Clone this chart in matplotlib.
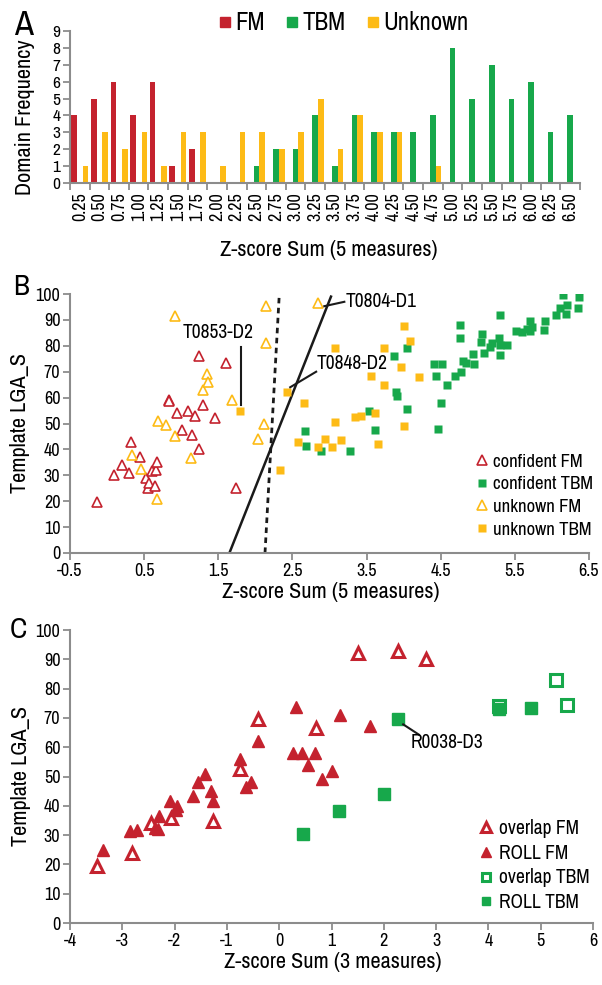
import matplotlib
matplotlib.use('Agg')
import matplotlib.pyplot as plt
import numpy as np
from matplotlib.lines import Line2D
from matplotlib import font_manager

# look for a narrow sans font, the reference uses an Arial Narrow look
narrow = None
for f in font_manager.fontManager.ttflist:
    if 'Narrow' in f.name or 'Condensed' in f.name:
        narrow = (f.name, 'normal')
        break
if narrow is None:
    for f in font_manager.fontManager.ttflist:
        if f.stretch in ('condensed', 'semi-condensed') and 'Mono' not in f.name and 'Serif' not in f.name:
            narrow = (f.name, f.stretch)
            break

if narrow is not None:
    plt.rcParams['font.family'] = [narrow[0], 'DejaVu Sans']
    plt.rcParams['font.stretch'] = narrow[1]
    FS = 1.0
else:
    plt.rcParams['font.family'] = ['Liberation Sans', 'DejaVu Sans']
    FS = 0.86
plt.rcParams['axes.unicode_minus'] = False

RED = '#c4222e'
GREEN = '#17a84b'
YELLOW = '#fdbb16'
GRAY = '#8c8c8c'

# ---- panel A: domain counts per z-score bin
bin_labels = ['0.25', '0.50', '0.75', '1.00', '1.25', '1.50', '1.75', '2.00', '2.25',
              '2.50', '2.75', '3.00', '3.25', '3.50', '3.75', '4.00', '4.25', '4.50',
              '4.75', '5.00', '5.25', '5.50', '5.75', '6.00', '6.25', '6.50']
fm_counts = [4, 5, 6, 4, 6, 1, 2, 0, 0, 0, 0, 0, 0, 0, 0, 0, 0, 0, 0, 0, 0, 0, 0, 0, 0, 0]
tbm_counts = [0, 0, 0, 0, 0, 0, 0, 0, 0, 1, 2, 2, 4, 1, 4, 3, 3, 3, 4, 8, 5, 7, 5, 6, 3, 4]
unknown_counts = [1, 3, 2, 3, 1, 3, 3, 1, 3, 3, 2, 3, 5, 2, 4, 3, 3, 0, 1, 0, 0, 0, 0, 0, 0, 0]

# ---- panel B: z-score sum (5 measures) vs template LGA_S
conf_fm_x = [-0.13, 0.09, 0.20, 0.29, 0.32, 0.45, 0.52, 0.55, 0.57, 0.61, 0.64, 0.66, 0.67,
             0.83, 0.84, 0.94, 1.01, 1.09, 1.14, 1.19, 1.24, 1.24, 1.29, 1.46, 1.60, 1.74]
conf_fm_y = [19.5, 30, 34, 31, 43, 37, 29, 25, 27, 31.5, 26, 32, 35,
             59, 58.5, 54, 47.5, 55, 45.5, 53, 40, 76, 57, 52, 73.5, 25]
unk_fm_x = [0.34, 0.46, 0.68, 0.69, 0.80, 0.92, 0.92, 1.13, 1.30, 1.35, 1.36, 1.68,
            2.03, 2.11, 2.14, 2.14, 2.85]
unk_fm_y = [38, 32.5, 21, 51, 49.5, 91.5, 45, 36.5, 63, 69, 66, 59,
            44, 50, 81, 95.5, 96.5]
unk_tbm_x = [1.79, 2.33, 2.43, 2.57, 2.66, 2.85, 2.94, 3.04, 3.08, 3.07, 3.16, 3.35, 3.42,
             3.56, 3.62, 3.66, 3.73, 3.74, 3.96, 4.00, 4.01, 4.09, 4.21]
unk_tbm_y = [55, 32, 62, 43, 58, 41, 44, 41, 50.5, 79, 43.5, 52.5, 53,
             68.5, 54, 42, 79, 65, 72, 87.5, 49, 82, 68]
conf_tbm_x = [2.67, 2.68, 2.89, 3.28, 3.62, 4.46, 4.04, 3.87, 3.53, 3.90, 3.91, 4.05,
              4.41, 4.52, 4.44, 4.58, 4.50, 4.69, 4.77, 4.80, 4.84, 4.76, 4.76, 4.95,
              4.94, 5.06, 5.04, 5.08, 5.16, 5.19, 5.28, 5.30, 5.30, 5.30, 5.39, 5.52,
              5.60, 5.67, 5.71, 5.70, 5.73, 5.89, 5.91, 6.06, 6.11, 6.19, 6.20, 6.15,
              6.35, 6.36]
conf_tbm_y = [47, 41.5, 39.5, 39.5, 47.5, 48, 79, 76, 55, 62, 60.5, 55.5,
              73, 73, 68.5, 65, 58, 68.5, 70, 74, 73.5, 88, 83, 73,
              77, 84.5, 81.5, 77.3, 79.4, 81, 83, 92, 80.3, 76.4, 80.3, 85.7,
              85.5, 86.4, 85.9, 89.6, 87.4, 86.1, 89.6, 92, 94.6, 92.3, 95.6, 99.6,
              94.6, 99]
solid_cut_x = [1.65, 3.02]
solid_cut_y = [0, 99]
dashed_cut_x = [2.13, 2.32]
dashed_cut_y = [0, 98.5]

# ---- panel C: z-score sum (3 measures) vs template LGA_S
ovl_fm_x = [-3.49, -2.81, -2.45, -2.07, -1.26, -0.75, -0.40, 0.71, 1.51, 2.28, 2.80]
ovl_fm_y = [19.3, 23.8, 34, 36, 34.7, 52.5, 69.7, 66.5, 92, 93, 90]
roll_fm_x = [-3.37, -2.85, -2.72, -2.37, -2.31, -2.30, -2.09, -1.98, -1.96, -1.64, -1.55,
             -1.42, -1.31, -1.26, -0.75, -0.63, -0.54, -0.40, 0.27, 0.33, 0.43, 0.55,
             0.69, 0.82, 1.00, 1.16, 1.73]
roll_fm_y = [25, 31.5, 31.8, 32.5, 32, 36.5, 41.5, 38.5, 40, 43.4, 48,
             51, 45, 41.5, 56, 46.5, 48, 62, 58, 73.7, 58, 54,
             58, 49, 52, 71, 67.4]
roll_tbm_x = [0.46, 1.14, 2.00, 2.28, 4.21, 4.82]
roll_tbm_y = [30.5, 38.3, 44, 69.7, 73, 73.4]
ovl_tbm_x = [4.20, 5.29, 5.51]
ovl_tbm_y = [74, 83, 74.3]


def style_axes(ax):
    for side in ['top', 'right']:
        ax.spines[side].set_visible(False)
    for side in ['left', 'bottom']:
        ax.spines[side].set_color(GRAY)
        ax.spines[side].set_linewidth(1.5)
    ax.tick_params(which='both', color=GRAY, width=1.3, length=5, labelsize=13 * FS, pad=2)


fig = plt.figure(figsize=(6.02, 9.85), dpi=100)

# Panel A
axA = fig.add_axes([0.1163, 0.8142, 0.8472, 0.1543])
x = np.arange(len(bin_labels))
w = 0.29
axA.bar(x - w, fm_counts, w, color=RED, label='FM')
axA.bar(x, tbm_counts, w, color=GREEN, label='TBM')
axA.bar(x + w, unknown_counts, w, color=YELLOW, label='Unknown')
axA.set_xlim(-0.5, len(bin_labels) - 0.5)
axA.set_ylim(0, 9)
axA.set_yticks(range(10))
axA.set_xticks(x)
axA.set_xticklabels(bin_labels, rotation=90)
axA.set_xticks(np.arange(-0.5, len(bin_labels)), minor=True)
style_axes(axA)
axA.tick_params(axis='x', which='major', length=0, pad=7)
axA.tick_params(axis='y', labelsize=12.5 * FS)
fig.legend(handles=[Line2D([], [], ls='none', marker='s', ms=7, color=c, label=l)
                    for c, l in [(RED, 'FM'), (GREEN, 'TBM'), (YELLOW, 'Unknown')]],
           loc='center left', bbox_to_anchor=(0.341, 1 - 23 / 985), ncol=3, frameon=False,
           fontsize=18 * FS, handlelength=0.6, handletextpad=0.1, columnspacing=0.8, borderpad=0)
fig.text(14 / 602, 1 - 35 / 985, 'A', fontsize=25 * FS, va='baseline')
fig.text(25 / 602, 1 - 117 / 985, 'Domain Frequency', fontsize=16 * FS, rotation=90, ha='center', va='center')
fig.text(329 / 602, 1 - 250 / 985, 'Z-score Sum (5 measures)', fontsize=16 * FS, ha='center', va='center')

# Panel B
axB = fig.add_axes([0.1163, 0.4386, 0.8621, 0.2629])
axB.plot(solid_cut_x, solid_cut_y, color='#1a1a1a', lw=1.8)
axB.plot(dashed_cut_x, dashed_cut_y, color='#1a1a1a', lw=2, ls=(0, (2, 1.6)))
axB.plot(conf_fm_x, conf_fm_y, ls='none', marker='^', ms=6.5, mfc='white', mec=RED, mew=1.2, label='confident FM')
axB.plot(conf_tbm_x, conf_tbm_y, ls='none', marker='s', ms=6, color=GREEN, mec='none', label='confident TBM')
axB.plot(unk_fm_x, unk_fm_y, ls='none', marker='^', ms=6.5, mfc='white', mec=YELLOW, mew=1.2, label='unknown FM')
axB.plot(unk_tbm_x, unk_tbm_y, ls='none', marker='s', ms=6, color=YELLOW, mec='none', label='unknown TBM')
axB.plot([1.80, 1.80], [79.5, 57], color='#1a1a1a', lw=1.5)
axB.text(1.50, 85, 'T0853-D2', fontsize=14 * FS, ha='center', va='center')
axB.plot([2.93, 3.20], [95.3, 97], color='#1a1a1a', lw=1.5)
axB.text(3.22, 97, 'T0804-D1', fontsize=14 * FS, ha='left', va='center')
axB.plot([2.47, 2.82], [64, 70], color='#1a1a1a', lw=1.5)
axB.text(2.83, 73, 'T0848-D2', fontsize=14 * FS, ha='left', va='center')
axB.set_xlim(-0.5, 6.5)
axB.set_ylim(0, 100)
axB.set_xticks(np.arange(-0.5, 6.6, 1.0))
axB.set_yticks(range(0, 101, 10))
style_axes(axB)
axB.legend(loc='center left', bbox_to_anchor=(0.772, 1 - 495.5 / 985), bbox_transform=fig.transFigure,
           frameon=False, fontsize=13.5 * FS, handlelength=0.8, handletextpad=0.2, labelspacing=0.35, borderpad=0)
fig.text(13 / 602, 1 - 295 / 985, 'B', fontsize=21 * FS, va='baseline')
fig.text(20 / 602, 1 - 423 / 985, 'Template LGA_S', fontsize=16 * FS, rotation=90, ha='center', va='center')
fig.text(331 / 602, 1 - 592 / 985, 'Z-score Sum (5 measures)', fontsize=16 * FS, ha='center', va='center')

# Panel C
axC = fig.add_axes([0.1163, 0.0629, 0.8688, 0.2975])
axC.plot(ovl_fm_x, ovl_fm_y, ls='none', marker='^', ms=9, mfc='white', mec=RED, mew=2.2, label='overlap FM')
axC.plot(roll_fm_x, roll_fm_y, ls='none', marker='^', ms=9, color=RED, mec=RED, label='ROLL FM')
axC.plot(ovl_tbm_x, ovl_tbm_y, ls='none', marker='s', ms=8, mfc='white', mec=GREEN, mew=2.2, label='overlap TBM')
axC.plot(roll_tbm_x, roll_tbm_y, ls='none', marker='s', ms=8, color=GREEN, label='ROLL TBM')
axC.plot([2.37, 2.67], [67.8, 64.3], color='#1a1a1a', lw=1.5)
axC.text(3.20, 61.7, 'R0038-D3', fontsize=14 * FS, ha='center', va='center')
axC.set_xlim(-4, 6)
axC.set_ylim(0, 100)
axC.set_xticks(range(-4, 7))
axC.set_yticks(range(0, 101, 10))
style_axes(axC)
axC.legend(loc='center left', bbox_to_anchor=(0.778, 1 - 865.5 / 985), bbox_transform=fig.transFigure,
           frameon=False, fontsize=14 * FS, handlelength=0.8, handletextpad=0.3, labelspacing=0.3,
           borderpad=0, markerscale=0.8)
fig.text(10 / 602, 1 - 638 / 985, 'C', fontsize=21 * FS, va='baseline')
fig.text(21 / 602, 1 - 776 / 985, 'Template LGA_S', fontsize=16 * FS, rotation=90, ha='center', va='center')
fig.text(333 / 602, 1 - 962 / 985, 'Z-score Sum (3 measures)', fontsize=16 * FS, ha='center', va='center')

fig.savefig('out.png', dpi=100)
